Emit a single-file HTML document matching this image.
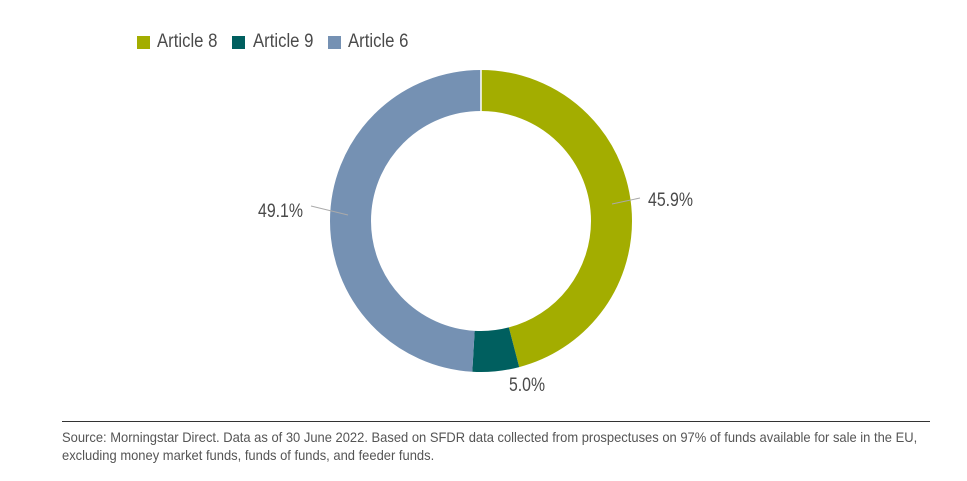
<!DOCTYPE html>
<html><head><style>
body{margin:0;width:967px;height:481px;background:#fff;overflow:hidden;font-family:"Liberation Sans",sans-serif;color:#4a4a4a;position:relative}
.lg{position:absolute;top:31px;font-size:19px;line-height:22px;white-space:nowrap;transform:scaleX(0.88);transform-origin:0 0}
.sq{position:absolute;width:13px;height:13px;top:36px}
.src{position:absolute;left:62px;font-size:14px;color:#555;white-space:nowrap;transform:scaleX(0.925);transform-origin:0 0}
</style></head><body>
<div class="sq" style="left:137px;background:#a3ad00"></div><div class="lg" style="left:157px">Article 8</div>
<div class="sq" style="left:232px;background:#005f5f"></div><div class="lg" style="left:253px">Article 9</div>
<div class="sq" style="left:328px;background:#7591b3"></div><div class="lg" style="left:348px">Article 6</div>
<svg width="967" height="481" style="position:absolute;left:0;top:0">
<g transform="rotate(-90 481 221)" fill="none" stroke-width="41">
<circle cx="481" cy="221" r="130.5" stroke="#a3ad00" stroke-dasharray="376.4 443.6"/>
<circle cx="481" cy="221" r="130.5" stroke="#005f5f" stroke-dasharray="0 376.4 41 402.6"/>
<circle cx="481" cy="221" r="130.5" stroke="#7591b3" stroke-dasharray="0 417.4 402.6 0"/>
</g>
<line x1="481" y1="70" x2="481" y2="111" stroke="#fff" stroke-width="1.5"/>
<line x1="612" y1="204" x2="640" y2="198" stroke="#aaa" stroke-width="1"/>
<line x1="311" y1="206" x2="348" y2="215" stroke="#aaa" stroke-width="1"/>
<g font-family="Liberation Sans, sans-serif" font-size="19" fill="#4a4a4a">
<text x="648" y="206" textLength="45" lengthAdjust="spacingAndGlyphs">45.9%</text>
<text x="258" y="217" textLength="45" lengthAdjust="spacingAndGlyphs">49.1%</text>
<text x="509" y="391" textLength="36" lengthAdjust="spacingAndGlyphs">5.0%</text>
</g>
<line x1="62" y1="421.5" x2="930" y2="421.5" stroke="#333" stroke-width="1"/>
</svg>
<div class="src" style="top:429px">Source: Morningstar Direct. Data as of 30 June 2022. Based on SFDR data collected from prospectuses on 97% of funds available for sale in the EU,</div>
<div class="src" style="top:447px">excluding money market funds, funds of funds, and feeder funds.</div>
</body></html>
